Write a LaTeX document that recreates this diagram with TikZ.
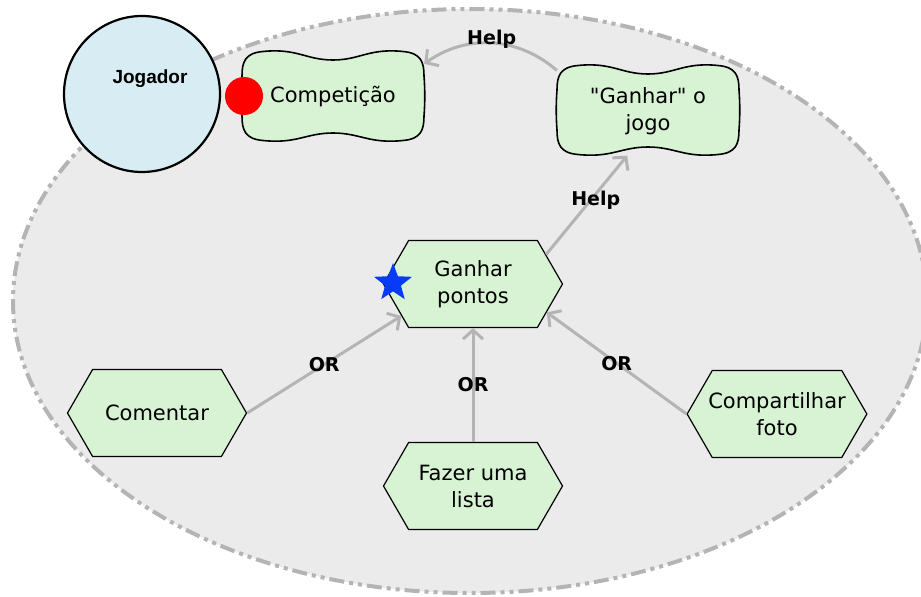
\documentclass[tikz,border=0pt]{standalone}
\usepackage{fontspec}
\setmainfont{DejaVu Sans}
\newfontfamily\actorfont{Liberation Sans}
\usetikzlibrary{arrows.meta,shapes.geometric,shapes.symbols}

\definecolor{goalgreen}{RGB}{216,243,212}
\definecolor{actorblue}{RGB}{215,236,243}
\definecolor{boundgray}{RGB}{235,235,235}
\definecolor{linegray}{RGB}{180,180,180}
\definecolor{starblue}{RGB}{8,58,250}

\tikzset{
  boundary/.style={fill=boundgray, draw=linegray, line width=4pt,
    dash pattern=on 15pt off 5pt on 4pt off 5pt on 4pt off 5pt},
  actor/.style={circle, draw, line width=2.2pt, fill=actorblue, minimum size=156pt, inner sep=0pt},
  actor name/.style={font=\actorfont\bfseries\fontsize{19}{22}\selectfont},
  softgoal/.style={minimum width=182pt, minimum height=89pt, inner sep=0pt, align=center,
    font=\fontsize{21}{27}\selectfont},
  task/.style={signal, signal to=west and east, signal pointer angle=120, draw, line width=1.2pt,
    fill=goalgreen, minimum width=179pt, minimum height=87pt, inner sep=0pt, align=center,
    font=\fontsize{21}{27}\selectfont},
  link/.style={draw=linegray, line width=3pt, -{Straight Barb[length=9pt,width=20pt]}},
  linklabel/.style={font=\bfseries\fontsize{19}{21}\selectfont, inner sep=1pt},
  cloud/.pic={
    \path[fill=goalgreen, draw, line width=1.6pt]
      (-70,-44.5) .. controls (-36,-48) and (-27,-36) .. (0,-36)
      .. controls (27,-36) and (36,-48) .. (70,-44.5)
      .. controls (88,-43) and (91,-34) .. (91,-20)
      .. controls (92,-8) and (92,8) .. (91,20)
      .. controls (91,34) and (88,43) .. (70,44.5)
      .. controls (36,48) and (27,37) .. (0,37)
      .. controls (-27,37) and (-36,48) .. (-70,44.5)
      .. controls (-88,43) and (-91,34) .. (-91,20)
      .. controls (-92,8) and (-92,-8) .. (-91,-20)
      .. controls (-91,-34) and (-88,-43) .. (-70,-44.5) -- cycle;
  }
}

\begin{document}
\begin{tikzpicture}[x=1pt, y=-1pt]
  \useasboundingbox (0,0) rectangle (921,597);

  \path[boundary] (470,301) ellipse [x radius=457, y radius=292];

  \node[actor, label={[actor name, xshift=8pt, yshift=15pt]center:Jogador}] (jog) at (142,94) {};

  \pic at (333,96) {cloud};
  \pic at (648,110) {cloud};
  \node[softgoal] (comp) at (333,97) {Competição};
  \node[softgoal] (gj) at (648,111) {\textquotedbl Ganhar\textquotedbl{} o\\jogo};

  \node[task] (pontos) at (473,284) {Ganhar\\pontos};
  \node[task] (com) at (157,413) {Comentar};
  \node[task] (lista) at (473,486) {Fazer uma\\lista};
  \node[task, inner xsep=-4pt] (foto) at (777,414) {Compartilhar\\foto};

  \draw[link] (gj.156) to[bend right=38] node[linklabel, above=-8pt] {Help} (comp.20);
  \draw[link] (pontos.22) -- node[linklabel, pos=0.55, xshift=5pt] {Help} (gj.245);
  \draw[link] (com.east) -- node[linklabel] {OR} (pontos.204);
  \draw[link] (lista.north) -- node[linklabel] {OR} (pontos.south);
  \draw[link] (foto.west) -- node[linklabel] {OR} (pontos.-21);

  \node[circle, fill=red, minimum size=38pt, inner sep=0pt] (dot) at (244,96) {};
  \node[star, star points=5, star point ratio=2.4, fill=starblue, minimum size=40pt, inner sep=0pt] (mark) at (393,283) {};
\end{tikzpicture}
\end{document}
